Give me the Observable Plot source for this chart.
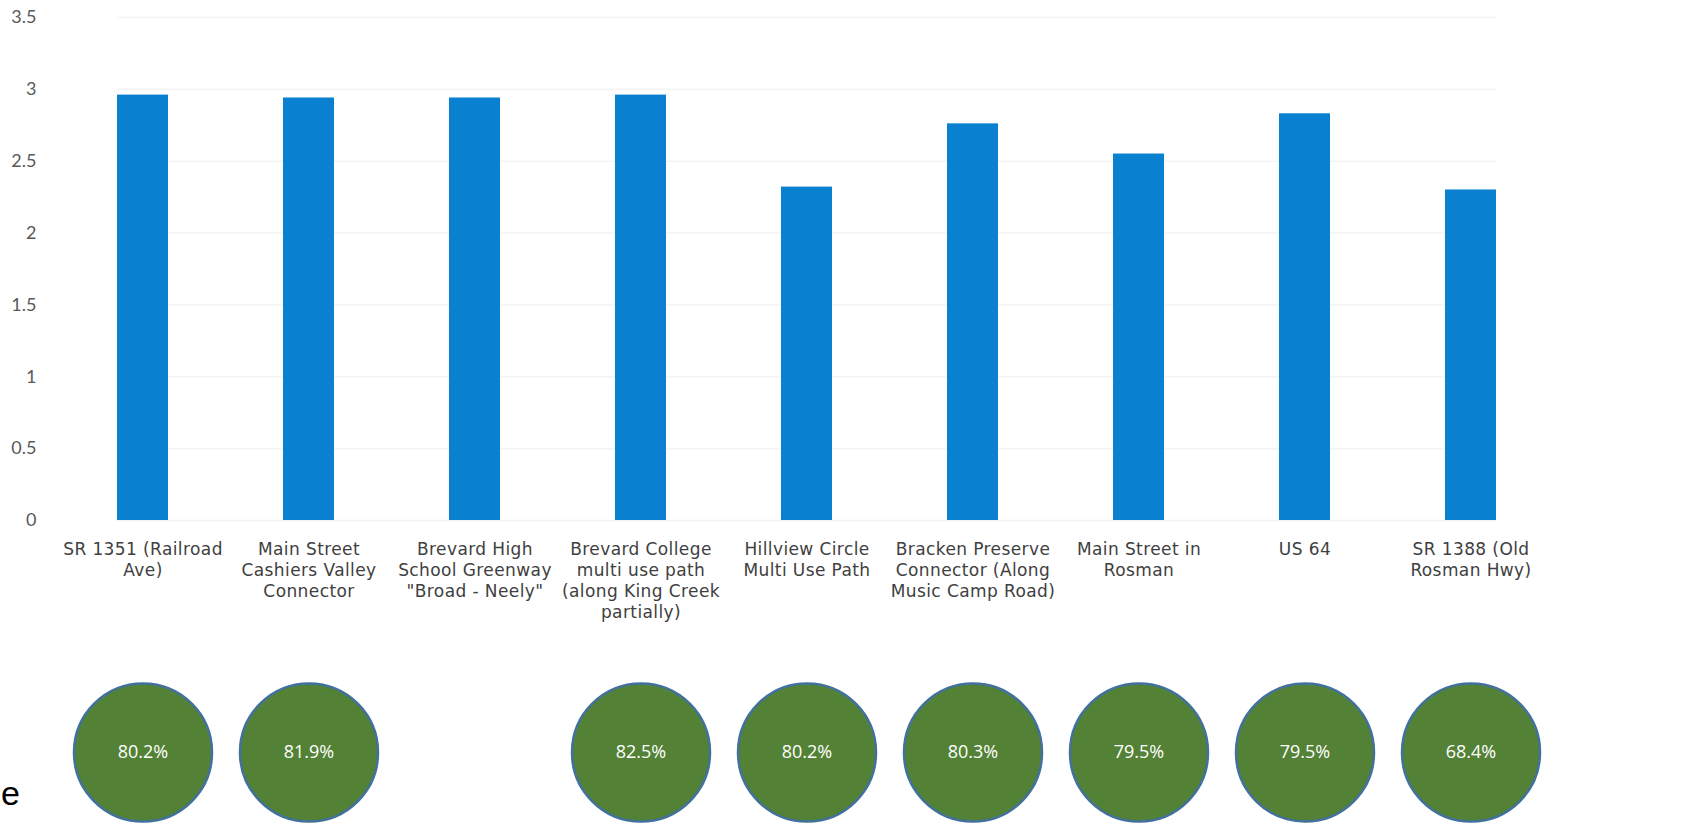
<!DOCTYPE html>
<html>
<head>
<meta charset="utf-8">
<script src="https://cdn.jsdelivr.net/npm/d3@7"></script>
<script src="https://cdn.jsdelivr.net/npm/@observablehq/plot@0.6"></script>
<style>
  body { margin: 0; background: #fff; }
  #wrap { position: relative; width: 1703px; height: 828px; overflow: hidden; }
  #cut { position: absolute; left: 1px; top: 774px; font: 34px "Liberation Sans", sans-serif; color: #000; }
  .cat text { letter-spacing: 0.4px; }
</style>
</head>
<body>
<div id="wrap"><div id="chart"></div><div id="cut">e</div></div>
<script>
const projects = [
  "SR 1351 (Railroad\nAve)",
  "Main Street\nCashiers Valley\nConnector",
  "Brevard High\nSchool Greenway\n\"Broad - Neely\"",
  "Brevard College\nmulti use path\n(along King Creek\npartially)",
  "Hillview Circle\nMulti Use Path",
  "Bracken Preserve\nConnector (Along\nMusic Camp Road)",
  "Main Street in\nRosman",
  "US 64",
  "SR 1388 (Old\nRosman Hwy)"
];
const scores = [2.96, 2.94, 2.94, 2.96, 2.32, 2.76, 2.55, 2.83, 2.30];
const percents = [80.2, 81.9, null, 82.5, 80.2, 80.3, 79.5, 79.5, 68.4];
const yTicks = [0, 0.5, 1, 1.5, 2, 2.5, 3, 3.5];

const data = projects.map((p, i) => ({project: p, score: scores[i], pct: percents[i]}));
const withPct = data.filter(d => d.pct != null);

const chart = Plot.plot({
  width: 1703,
  height: 828,
  marginLeft: 58,
  marginRight: 148,
  marginTop: 17,
  marginBottom: 308,
  style: {background: "#fff", color: "#595959", fontFamily: "Lato, sans-serif"},
  x: {domain: projects, paddingInner: 0.69, paddingOuter: 0.345, axis: null},
  y: {domain: [0, 3.5], axis: null},
  marks: [
    Plot.ruleY(yTicks, {stroke: "#f3f3f3", strokeWidth: 1.5, x1: () => projects[0], x2: () => projects[8]}),
    Plot.barY(data, {x: "project", y: "score", fill: "#0a80d0"}),
    Plot.axisY({ticks: yTicks, tickSize: 0, tickPadding: 22, tickFormat: d => String(d), fontSize: 18, fill: "#595959", label: null}),
    Plot.text(data, {x: "project", y: () => 0, text: "project", lineAnchor: "top", dy: 19, fontSize: 17, lineHeight: 1.25, fill: "#404040", fontFamily: "DejaVu Sans, sans-serif", className: "cat"}),
    Plot.dot(withPct, {x: "project", y: () => 0, dy: 232, r: 69, fill: "#538135", stroke: "#41719c", strokeWidth: 2.5}),
    Plot.text(withPct, {x: "project", y: () => 0, dy: 232, text: d => d.pct.toFixed(1) + "%", fill: "#ffffff", fontSize: 18, fontFamily: "Open Sans, sans-serif"})
  ]
});
document.getElementById("chart").appendChild(chart);
</script>
</body>
</html>
